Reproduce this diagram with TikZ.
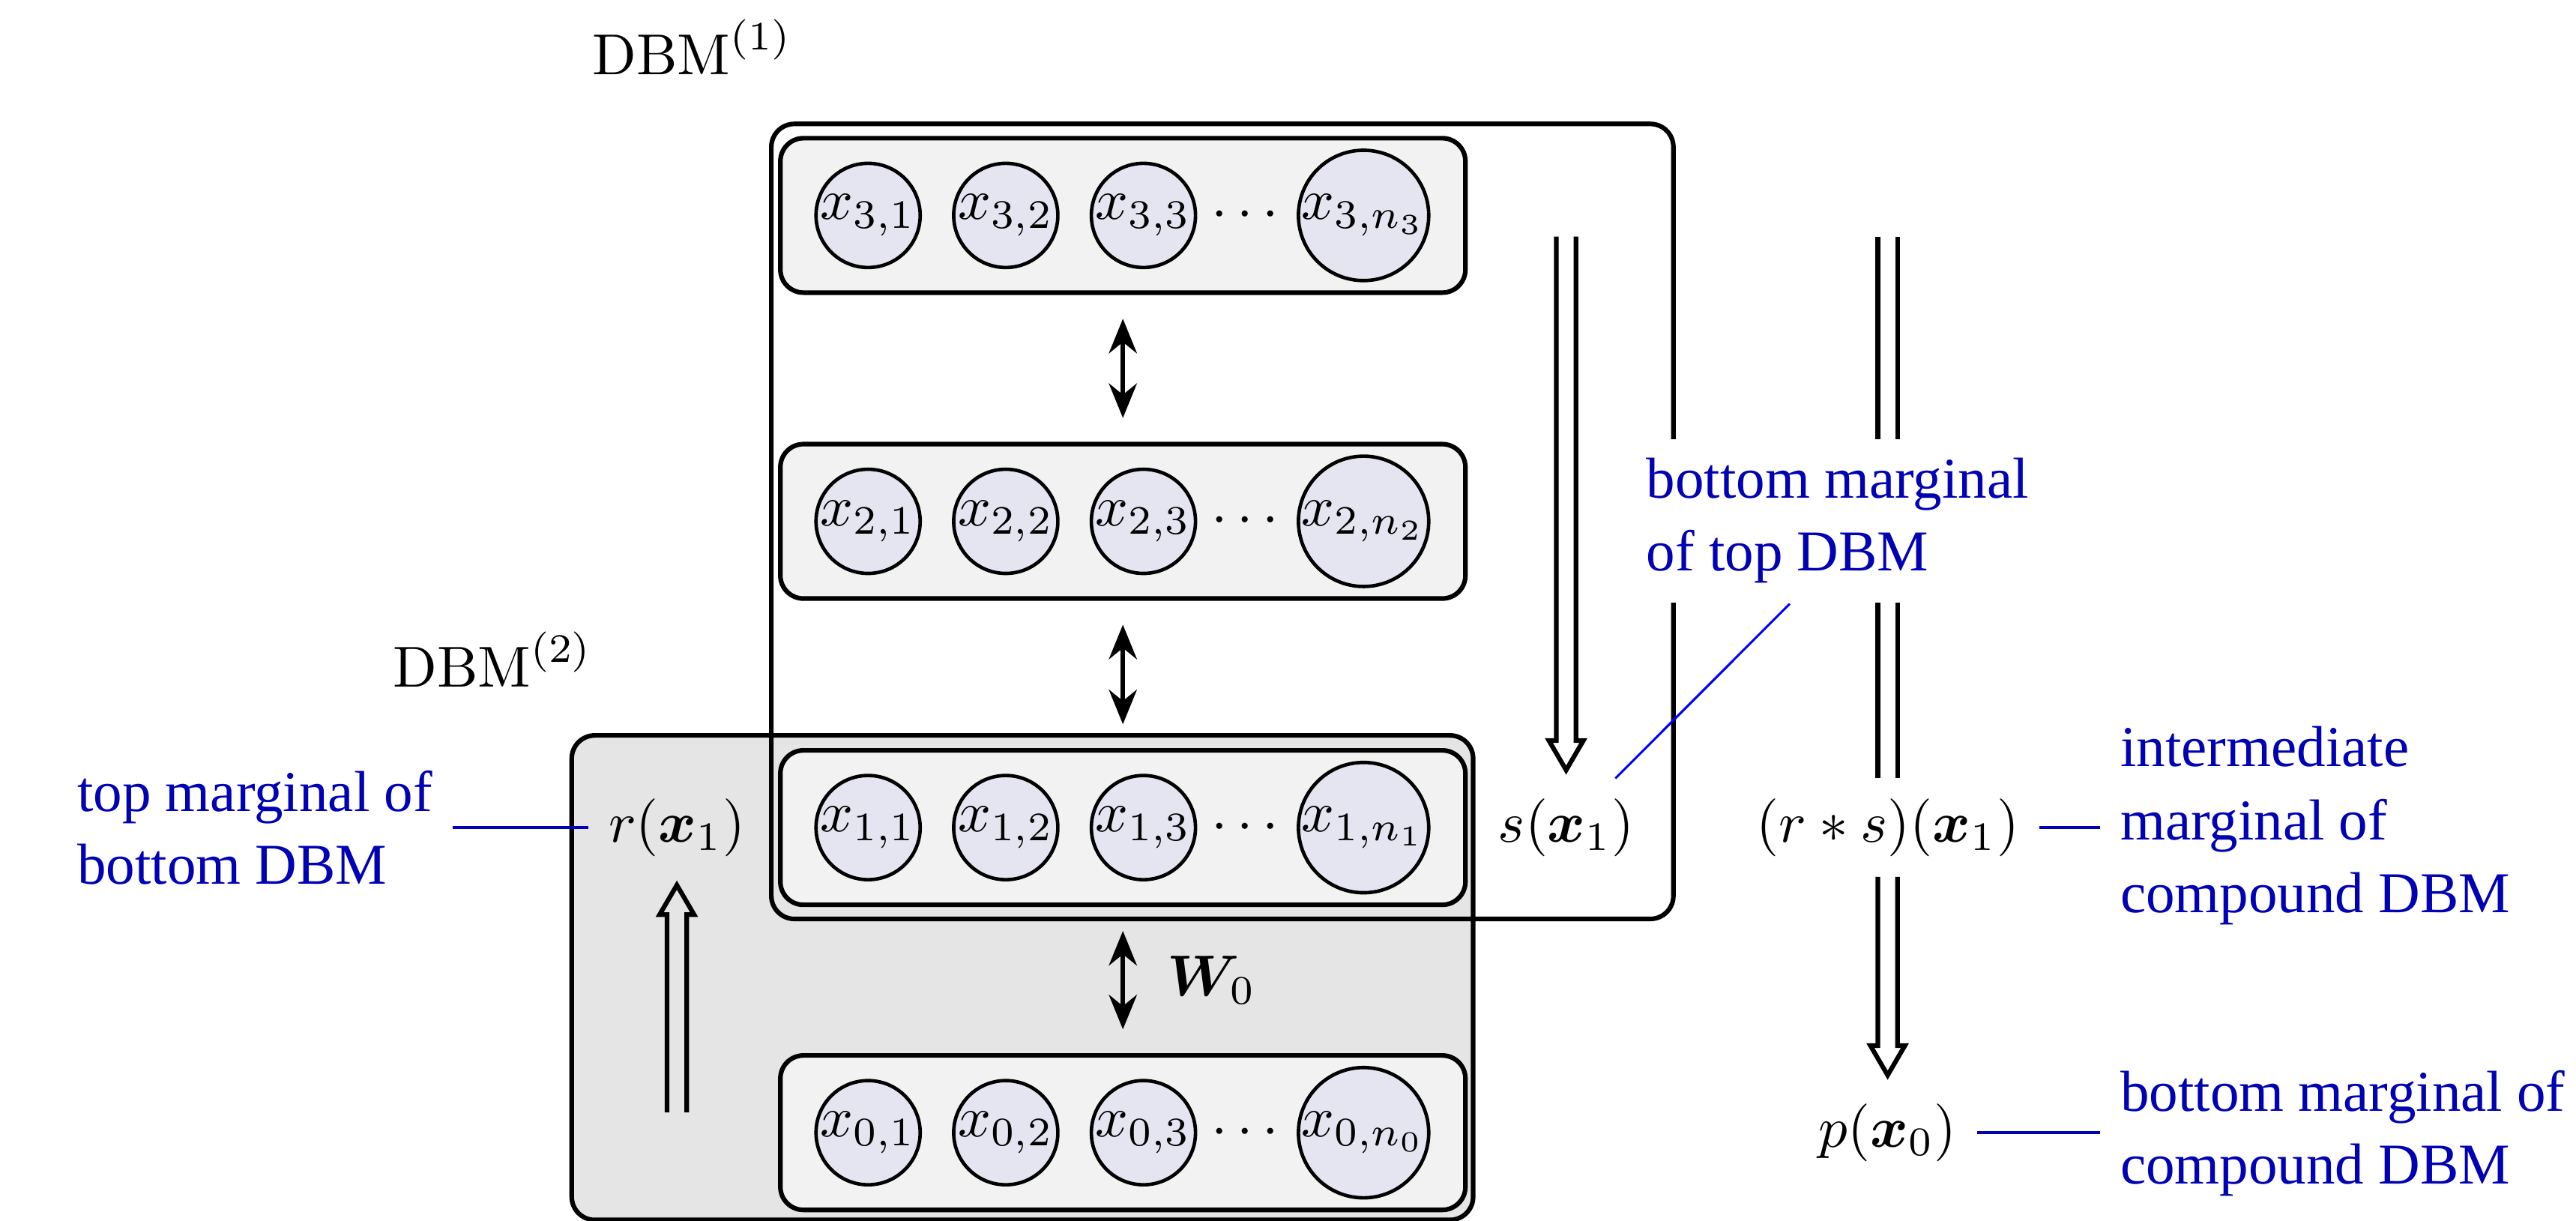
\documentclass[tikz,border=0pt]{standalone}
\usepackage{fontspec}
\usepackage{amsmath}
\usepackage{bm}
\newfontfamily\notefont{Liberation Serif}
\usetikzlibrary{arrows.meta,calc}
\definecolor{unitfill}{RGB}{229,229,242}
\definecolor{layerfill}{RGB}{242,242,242}
\definecolor{dbmfill}{RGB}{229,229,229}
\definecolor{notecol}{RGB}{0,0,180}
\definecolor{leadblue}{RGB}{0,0,255}
\newcommand{\hollowarrow}[3]{%
  \draw[hollow] ($(#1)+(-0.6mm,0)$) -- ($(#2)+(-0.6mm,{#3*1.8mm})$) -- ($(#2)+(-1.05mm,{#3*1.8mm})$) -- (#2) -- ($(#2)+(1.05mm,{#3*1.8mm})$) -- ($(#2)+(0.6mm,{#3*1.8mm})$) -- ($(#1)+(0.6mm,0)$);}
\begin{document}
\begin{tikzpicture}[x=0.1mm,y=-0.1mm,
  unit/.style={circle, draw, semithick, fill=unitfill, inner sep=0pt, minimum size=6.25mm},
  bigunit/.style={unit, minimum size=7.6mm},
  layer/.style={draw, thick, rounded corners, fill=layerfill, minimum width=41.7mm, minimum height=9.4mm, inner sep=0pt},
  dbmone/.style={draw, thick, rounded corners, minimum width=54.91mm, minimum height=48.39mm, inner sep=0pt},
  dbmtwo/.style={draw, thick, rounded corners, fill=dbmfill, minimum width=54.87mm, minimum height=29.49mm, inner sep=0pt},
  link/.style={thick, arrows={Stealth[length=2.1mm,width=1.7mm]-Stealth[length=2.1mm,width=1.7mm]}, shorten <=1.45mm, shorten >=1.45mm},
  dbl/.style={thick, double, double distance=2.6pt},
  hollow/.style={thick, line join=miter},
  note/.style={font=\notefont\fontsize{10pt}{12.6pt}\selectfont, text=notecol, align=left},
  lead/.style={notecol, line width=0.45pt},
  slead/.style={leadblue, line width=0.4pt}]
\useasboundingbox (0,0) rectangle (1568,743);

% boxes of the two DBMs
\node[dbmtwo] (dbm2) at (622.35,595.05) {};
\node[dbmone] (dbm1) at (744.05,317.35) {};
\node[anchor=base] (dbm1lab) at (421.5,45.6) {$\mathrm{DBM}^{(1)}$};
\node[anchor=base] (dbm2lab) at (300,418.2) {$\mathrm{DBM}^{(2)}$};

% layers
\foreach \i/\y in {3/131.1,2/317.3,1/503.7,0/689.4} {
  \node[layer] (L\i) at (683.5,\y) {};
  \node[unit] (x\i-1) at (528.4,\y) {$x_{\i,1}$};
  \node[unit] (x\i-2) at (612.2,\y) {$x_{\i,2}$};
  \node[unit] (x\i-3) at (696,\y) {$x_{\i,3}$};
  \node (dots\i) at (760.8,\y) {$\cdots$};
  \node[bigunit] (x\i-n) at (830,\y) {$x_{\i,n_\i}$};
}

\draw[link] (L3) -- (L2);
\draw[link] (L2) -- (L1);
\draw[link] (L1) -- node[right, xshift=1.4mm] (w0) {$\bm{W}_0$} (L0);

% marginals
\node (r) at (412,503.7) {$r(\bm{x}_1)$};
\node (s) at (953.3,503.7) {$s(\bm{x}_1)$};
\node (rs) at (1149,503.7) {$(r*s)(\bm{x}_1)$};
\node (p) at (1149,689.4) {$p(\bm{x}_0)$};

\coordinate (rbot) at (412,677);
\coordinate (stop) at (953.3,144);
\coordinate (rstop) at (1149,144);
\coordinate (rtip) at ($(r.south)+(0,-0.5mm)$);
\coordinate (stip) at ($(s.north)+(0,0.5mm)$);
\coordinate (ptip) at ($(p.north)+(0,0.5mm)$);

\hollowarrow{rbot}{rtip}{-1}
\hollowarrow{stop}{stip}{1}
\draw[dbl] (rstop) -- (rs.north);
\hollowarrow{rs.south}{ptip}{1}

% notes
\node[note, anchor=west] (toplab) at (34.7,503.7) {top marginal of\\bottom DBM};
\node[note, anchor=west] (midlab) at (1278.3,502.5) {intermediate\\marginal of\\compound DBM};
\node[note, anchor=west] (botlab) at (1278.3,690) {bottom marginal of\\compound DBM};
\node[note, anchor=west, fill=white] (smlab) at (989.8,317) {bottom marginal\\of top DBM};

\draw[lead] (r.west) -- (r.west -| toplab.east);
\draw[lead] (rs.east) -- (rs.east -| midlab.west);
\draw[lead] (p.east) -- (p.east -| botlab.west);
\draw[slead] (s.45) -- (smlab.240);
\end{tikzpicture}
\end{document}
